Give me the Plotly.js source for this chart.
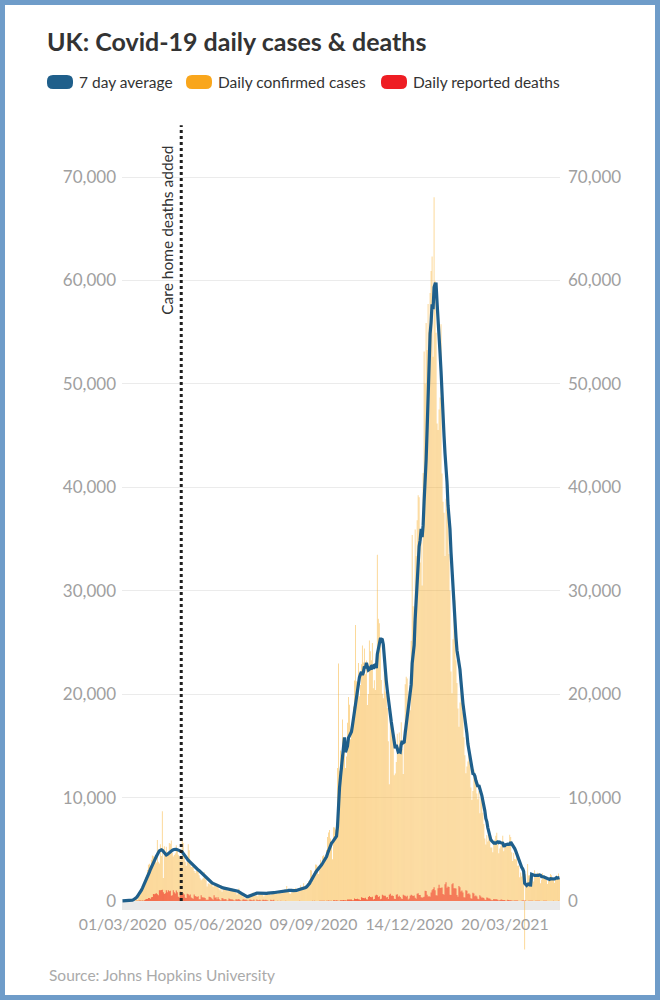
<!DOCTYPE html>
<html>
<head>
<meta charset="utf-8">
<script src="https://cdn.plot.ly/plotly-3.0.1.min.js"></script>
<style>
  html, body { margin: 0; padding: 0; background: #fff; }
  #wrap { position: relative; width: 660px; height: 1000px; }
  #chart { width: 660px; height: 1000px; }
  #frame { position: absolute; left: 0; top: 0; width: 660px; height: 1000px; box-sizing: border-box;
           border: 5px solid #6f9cc9; pointer-events: none; z-index: 10; }
</style>
</head>
<body>
<div id="wrap"><div id="chart"></div><div id="frame"></div></div>
<script>
// ---------------- DATA (one value per day, first day 01/03/2020) ----------------
const firstDay = '2020-03-01';

const dailyCases = [
  // Mar 2020
  13, 4, 11, 34, 30, 48, 43, 67, 48, 61, 83, 134, 208, 342, 251, 152, 407, 676, 643, 1000, 1400, 1300, 1800, 2300, 2500, 3000, 3500, 3600, 3400, 4000, 4400,
  // Apr 2020
  4324, 4244, 4450, 3735, 5903, 3802, 3634, 5491, 4344, 8681, 2233, 5288, 4342, 5252, 4603, 4617, 5599, 5525, 5850, 4676, 4301, 4451, 4583, 5386, 4913, 4463, 4309, 3996, 4076, 6032,
  // May 2020
  5600, 4300, 3800, 3400, 3900, 5500, 4900, 4000, 3300, 3300, 3300, 2900, 2700, 2900, 3000, 2900, 2500, 2200, 2000, 2100, 2200, 2800, 2500, 2000, 1400, 1700, 1700, 1600, 1800, 1650, 1350,
  // Jun 2020
  1450, 1600, 1550, 1450, 1350, 1150, 1050, 1500, 900, 1100, 1350, 1250, 1300, 1200, 950, 1150, 1000, 1100, 1200, 1150, 1100, 850, 800, 600, 1000, 1200, 800, 800, 600, 450,
  // Jul 2020
  400, 300, 250, 350, 400, 450, 581, 630, 512, 820, 650, 650, 530, 538, 463, 642, 687, 827, 650, 580, 445, 560, 769, 767, 740, 685, 685, 581, 763, 846, 880,
  // Aug 2020
  744, 742, 938, 670, 892, 950, 871, 758, 1062, 816, 1148, 1009, 1441, 1012, 1077, 726, 713, 1089, 812, 1182, 1033, 1288, 1041, 853, 1184, 1048, 1522, 1276, 1108, 1715, 1406,
  // Sep 2020
  1295, 1508, 1735, 1940, 1813, 2988, 2948, 2460, 2659, 2919, 3539, 3497, 3330, 2621, 3105, 3991, 3395, 4322, 4422, 3899, 4368, 4926, 6178, 6634, 6874, 6042, 5693, 4044, 7143, 7108,
  // Oct 2020
  6914, 6968, 12872, 22961, 12594, 14542, 14162, 17540, 13864, 15166, 12872, 13972, 17234, 19724, 18980, 15650, 16171, 16982, 18804, 21331, 26688, 21242, 20530, 23012, 19790, 20890, 22885, 24701, 23065, 24405, 21915,
  // Nov 2020
  23254, 18950, 20018, 25177, 24141, 23287, 24957, 20572, 21350, 20412, 22950, 33470, 27301, 26860, 24962, 21363, 20051, 19609, 22915, 20252, 19875, 18662, 15450, 11299, 18213, 17555, 16022, 15871, 12155, 12330,
  // Dec 2020
  13430, 16170, 14879, 16298, 15539, 17272, 14718, 12282, 16578, 20964, 21672, 21502, 18447, 20263, 18450, 25161, 35383, 28507, 27052, 35928, 33364, 36804, 39237, 39036, 32725, 34693, 30501, 41385, 53135, 50023, 55892,
  // Jan 2021
  53285, 57725, 54990, 58784, 60916, 62322, 52618, 68053, 59937, 54940, 46169, 45533, 47525, 48682, 55761, 41346, 38598, 37535, 33355, 38905, 37892, 40261, 33552, 30004, 22195, 20089, 25308, 28680, 29079, 23275, 21088,
  // Feb 2021
  18607, 16840, 19202, 20634, 19114, 18262, 15845, 14104, 12364, 13013, 13494, 15144, 13308, 10972, 9765, 10625, 12718, 12057, 12027, 10406, 9834, 10641, 8489, 9938, 9985, 8523, 7434, 6035,
  // Mar 2021
  5455, 6391, 5766, 6573, 6040, 5177, 5177, 4712, 5766, 5926, 6305, 6609, 5534, 4618, 5089, 5294, 5758, 6303, 4802, 5587, 5312, 5342, 5379, 5605, 6397, 6187, 4715, 3862, 4654, 4052, 4040,
  // Apr 2021
  4479, 3402, 3423, 2297, 2762, 2379, 3029, 2763, -4700, 2589, 1730, 3568, 2472, 2491, 2672, 2596, 2206, 1882, 2963, 2524, 2396, 2729, 2678, 2381, 1712, 2064, 2685, 2166, 2445, 2411,
  // May 2021
  2061, 1649, 1946, 1979, 2613, 2490, 2047, 2047, 1770, 2357, 2474, 2284, 2657, 2193
];

const dailyDeaths = [
  // Mar 2020
  0, 0, 0, 0, 1, 1, 0, 0, 2, 1, 2, 2, 1, 11, 14, 20, 14, 43, 41, 36, 56, 35, 74, 149, 186, 183, 284, 294, 214, 374, 382,
  // Apr 2020
  670, 652, 714, 760, 644, 568, 1038, 1034, 1060, 1080, 839, 686, 744, 1044, 842, 1029, 935, 1000, 498, 559, 1050, 837, 727, 1005, 843, 420, 338, 909, 795, 674,
  // May 2020
  739, 621, 315, 288, 693, 649, 539, 626, 346, 268, 210, 627, 494, 428, 384, 468, 170, 160, 545, 363, 338, 351, 282, 118, 121, 134, 412, 377, 324, 215, 113,
  // Jun 2020
  556, 324, 359, 176, 357, 204, 77, 55, 286, 245, 151, 202, 181, 36, 38, 233, 184, 135, 173, 128, 43, 15, 171, 154, 149, 186, 100, 36, 25, 155,
  // Jul 2020
  176, 89, 137, 67, 22, 16, 155, 126, 85, 48, 148, 21, 11, 138, 85, 66, 114, 40, 11, 110, 119, 79, 123, 79, 61, 7, 11, 119, 83, 38, 120,
  // Aug 2020
  8, 13, 1, 16, 7, 12, 20, 4, 7, 2, 4, 14, 11, 6, 12, 3, 3, 13, 7, 4, 11, 8, 3, 13, 12, 16, 12, 9, 12, 2, 1,
  // Sep 2020
  3, 3, 10, 12, 6, 2, 3, 32, 8, 14, 6, 9, 5, 9, 27, 20, 21, 27, 27, 18, 11, 37, 37, 40, 34, 17, 17, 13, 71, 71,
  // Oct 2020
  59, 66, 49, 33, 19, 76, 70, 77, 87, 81, 65, 50, 143, 137, 138, 136, 150, 67, 80, 241, 191, 189, 224, 174, 151, 102, 367, 310, 280, 274, 326,
  // Nov 2020
  162, 136, 397, 492, 378, 355, 413, 156, 194, 532, 595, 563, 376, 462, 168, 213, 598, 529, 501, 511, 341, 398, 206, 608, 696, 498, 521, 479, 215, 205,
  // Dec 2020
  603, 648, 414, 504, 397, 231, 189, 616, 533, 516, 424, 519, 144, 232, 506, 612, 532, 489, 534, 326, 215, 691, 744, 570, 570, 357, 316, 357, 414, 981, 964,
  // Jan 2021
  613, 445, 454, 407, 830, 1041, 1162, 1325, 1035, 563, 529, 1243, 1564, 1248, 1280, 1295, 671, 599, 1610, 1820, 1290, 1401, 1348, 610, 592, 1631, 1725, 1239, 1245, 1200, 587,
  // Feb 2021
  406, 1449, 1322, 915, 1014, 828, 373, 333, 1052, 1001, 678, 758, 621, 258, 230, 799, 738, 454, 533, 445, 215, 178, 548, 442, 323, 345, 290, 144,
  // Mar 2021
  104, 343, 315, 242, 236, 158, 82, 65, 190, 175, 181, 175, 121, 52, 64, 110, 141, 95, 101, 96, 33, 17, 112, 98, 70, 63, 58, 19, 23, 56, 52,
  // Apr 2021
  45, 51, 10, 10, 7, 20, 45, 53, 52, 40, 7, 13, 23, 29, 34, 32, 34, 10, 4, 33, 22, 18, 17, 32, 11, 7, 1, 29, 15, 24,
  // May 2021
  15, 1, 2, 1, 11, 13, 7, 17, 2, 4, 11, 11, 17, 7
];

const sevenDayAverage = [
  5, 6, 8, 12, 17, 23, 30, 40, 55, 75,
  90, 130, 180, 250, 340, 450, 580, 720, 880, 1050,
  1250, 1450, 1650, 1850, 2050, 2300, 2550, 2800, 3050, 3300,
  3500, 3700, 3900, 4100, 4300, 4500, 4700, 4850, 4900, 4950,
  4900, 4800, 4650, 4500, 4450, 4500, 4600, 4700, 4800, 4850,
  4900, 4950, 5000, 5000, 5000, 4980, 4950, 4900, 4850, 4800,
  4750, 4600, 4450, 4300, 4150, 4050, 3950, 3850, 3750, 3650,
  3500, 3420, 3340, 3250, 3170, 3080, 3000, 2950, 2850, 2770,
  2700, 2600, 2500, 2350, 2250, 2150, 2050, 1950, 1850, 1800,
  1750, 1700, 1650, 1600, 1550, 1500, 1450, 1400, 1350, 1330,
  1300, 1270, 1250, 1230, 1210, 1190, 1170, 1150, 1130, 1110,
  1090, 1070, 1060, 1050, 1040, 1000, 950, 880, 800, 750,
  700, 650, 600, 520, 450, 420, 430, 470, 520, 580,
  630, 680, 720, 740, 750, 760, 760, 750, 750, 740,
  730, 720, 720, 720, 730, 740, 760, 780, 790, 800,
  800, 810, 810, 820, 830, 830, 840, 850, 860, 870,
  890, 910, 930, 950, 970, 990, 1010, 1030, 1050, 1040,
  1030, 1010, 1000, 1000, 1010, 1030, 1060, 1080, 1100, 1120,
  1150, 1180, 1210, 1250, 1300, 1380, 1470, 1580, 1720, 1900,
  2100, 2300, 2450, 2600, 2750, 2900, 3000, 3100, 3200, 3350,
  3500, 3650, 3800, 3950, 4100, 4300, 4600, 4900, 5200, 5450,
  5600, 5700, 5850, 6000,
  6260, 6270, 7250, 9720, 10940, 11990, 13000, 14520, 15500, 15830,
  14390, 14590, 14970, 15770, 15970, 16230, 16370, 16960, 17650, 18240,
  19230, 19550, 20250, 21230, 21630, 21930, 22150, 21860, 22130, 22680,
  22520, 23020, 22740, 22330, 22400, 22550, 22390, 22830, 22440, 22790,
  22840, 22520, 23860, 24430, 24700, 25330, 25330, 25280, 24800, 23290,
  22290, 21290, 20390, 19550, 18300, 18100, 17330, 16730, 16150, 15220,
  14780, 15080, 14790, 14410, 14450, 14400, 15130, 15470, 15310, 15370,
  16240, 17000, 17860, 18020, 18820, 19700, 20920, 22980, 23960, 24750,
  27250, 29120, 31740, 33750, 34280, 34880, 35970, 35190, 36340, 38670,
  40210, 42620, 45560, 48850, 52350, 54830, 55950, 57700, 57230, 59340,
  59660, 59650, 57850, 55650, 53540, 52980, 51220, 48570, 46230, 45000,
  43260, 42030, 40490, 38270, 37160, 35930, 33740, 31840, 29900, 28580,
  26990, 25520, 24250, 23730, 23270, 22400, 21250, 19820, 19110, 18360,
  17710, 17080, 16190, 15170, 14600, 13900, 13200, 12580, 12330, 12290,
  12080, 11640, 11220, 11060, 11190, 10880, 10490, 10190, 9690, 9260,
  8720, 7980, 7680, 7080, 6600, 6240, 5920, 5800, 5690, 5600,
  5620, 5590, 5670, 5720, 5640, 5690, 5630, 5600, 5600, 5340,
  5350, 5450, 5490, 5500, 5480, 5490, 5690, 5560, 5360, 5260,
  5070, 4840, 4570, 4170, 3990, 3760, 3490, 3260, 3110, 2870,
  1710, 1590, 1510, 1620, 1640, 1560, 1550, 2590, 2530, 2560,
  2470, 2480, 2460, 2470, 2480, 2510, 2480, 2360, 2380, 2350,
  2300, 2270, 2220, 2210, 2200, 2090, 2160, 2160, 2110, 2110,
  2130, 2190, 2260, 2210, 2230, 2260
];

const yTickValues = [0, 10000, 20000, 30000, 40000, 50000, 60000, 70000];
const xTickStart = '2020-03-01';
const xTickStepDays = 96;
const careHomeDate = '2020-04-29';
const careHomeLabel = 'Care home deaths added';
const titleText = 'UK: Covid-19 daily cases & deaths';
const sourceText = 'Source: Johns Hopkins University';
const legendItems = [
  { label: '7 day average', color: '#1f5f8b' },
  { label: 'Daily confirmed cases', color: '#f9a61c' },
  { label: 'Daily reported deaths', color: '#ee1d23' }
];

// ---------------- helpers ----------------
const DAY = 86400000;
const t0 = Date.parse(firstDay + 'T00:00:00Z');
const dates = dailyCases.map((_, i) => new Date(t0 + i * DAY).toISOString().slice(0, 10));

const W = 660, H = 1000;
const M = { l: 122, r: 100, t: 125, b: 45 };
const plotW = W - M.l - M.r, plotH = H - M.t - M.b;
const px2x = px => (px - M.l) / plotW;           // page px -> paper x
const px2y = py => (H - M.b - py) / plotH;       // page px -> paper y

const FONT = 'Lato, "Open Sans", sans-serif';
const TICKGREY = '#a0a0a0';

const xStart = new Date(t0 - DAY / 2).toISOString();
const xEnd = new Date(t0 + (dates.length - 0.5) * DAY).toISOString();

// ---------------- traces ----------------
const traces = [
  {
    type: 'bar', x: dates, y: dailyCases, name: 'Daily confirmed cases',
    marker: { color: 'rgba(248,170,32,0.52)', line: { width: 0 } },
    hoverinfo: 'x+y', showlegend: false
  },
  {
    type: 'bar', x: dates, y: dailyDeaths, name: 'Daily reported deaths',
    marker: { color: 'rgba(240,40,28,0.72)', line: { width: 0 } },
    hoverinfo: 'x+y', showlegend: false
  },
  {
    type: 'scatter', mode: 'lines', x: dates, y: sevenDayAverage, name: '7 day average',
    line: { color: '#1f5f8b', width: 3.2 }, hoverinfo: 'x+y', showlegend: false
  },
  { // anchors the right-hand axis
    type: 'scatter', mode: 'markers', x: [dates[0]], y: [0], yaxis: 'y2',
    marker: { opacity: 0 }, hoverinfo: 'skip', showlegend: false
  }
];

// ---------------- layout ----------------
const pill = 'M 6,-7 L 20,-7 Q 26,-7 26,-1 L 26,1 Q 26,7 20,7 L 6,7 Q 0,7 0,1 L 0,-1 Q 0,-7 6,-7 Z';
const legendPillX = [47, 186, 381];
const legendTextX = [77, 216, 411];

const shapes = [
  { type: 'rect', xref: 'x', yref: 'y', x0: xStart, x1: xEnd, ysizemode: 'pixel', yanchor: 0, y0: 0, y1: -9,
    fillcolor: '#e9e9e9', line: { width: 0 }, layer: 'below' },
  { type: 'line', xref: 'x', yref: 'y', x0: careHomeDate, x1: careHomeDate, y0: 0, y1: 75000,
    line: { color: '#1e1e1e', width: 3, dash: 'dot' } }
];
legendItems.forEach((it, i) => {
  shapes.push({ type: 'path', xref: 'paper', yref: 'paper', xsizemode: 'pixel', ysizemode: 'pixel',
    xanchor: px2x(legendPillX[i]), yanchor: px2y(82), path: pill, fillcolor: it.color, line: { width: 0 } });
});

const annotations = [
  { xref: 'x', yref: 'paper', x: careHomeDate, y: px2y(144), xanchor: 'right', yanchor: 'top', xshift: -4,
    text: careHomeLabel, textangle: -90, showarrow: false, font: { family: FONT, size: 15.5, color: '#333' } },
  { xref: 'paper', yref: 'paper', x: px2x(47), y: px2y(975), xanchor: 'left', yanchor: 'middle',
    text: sourceText, showarrow: false, font: { family: FONT, size: 15.5, color: '#aaaaaa' } }
];
legendItems.forEach((it, i) => {
  annotations.push({ xref: 'paper', yref: 'paper', x: px2x(legendTextX[i]), y: px2y(82), xanchor: 'left', yanchor: 'middle',
    text: it.label, showarrow: false, font: { family: FONT, size: 15.5, color: '#333' } });
});

const yCommon = {
  range: [-5220, 75030], tickvals: yTickValues, tickformat: ',d', ticks: '',
  tickfont: { family: FONT, size: 17, color: TICKGREY }, zeroline: false, fixedrange: true
};

const layout = {
  width: W, height: H, margin: M,
  paper_bgcolor: '#fff', plot_bgcolor: '#fff',
  font: { family: FONT },
  title: { text: '<b>' + titleText + '</b>', xref: 'container', yref: 'container', x: 47 / W, xanchor: 'left',
           y: 1 - 42 / H, yanchor: 'middle', font: { family: FONT, size: 25, color: '#333' } },
  barmode: 'overlay', bargap: 0.12,
  showlegend: false,
  xaxis: {
    type: 'date', range: [xStart, xEnd], tick0: xTickStart, dtick: xTickStepDays * DAY, tickformat: '%d/%m/%Y',
    tickangle: 0, ticks: '', showgrid: false, zeroline: false, showline: false, anchor: 'free', position: px2y(913),
    tickfont: { family: FONT, size: 15.8, color: TICKGREY }, fixedrange: true
  },
  yaxis: Object.assign({}, yCommon, { side: 'left', showgrid: true, gridcolor: '#ebebeb', gridwidth: 1, ticklabelstandoff: 5 }),
  yaxis2: Object.assign({}, yCommon, { side: 'right', overlaying: 'y', showgrid: false, anchor: 'x', ticklabelstandoff: 7 }),
  shapes: shapes,
  annotations: annotations
};

Plotly.newPlot('chart', traces, layout, { staticPlot: true, displayModeBar: false });
</script>
</body>
</html>
